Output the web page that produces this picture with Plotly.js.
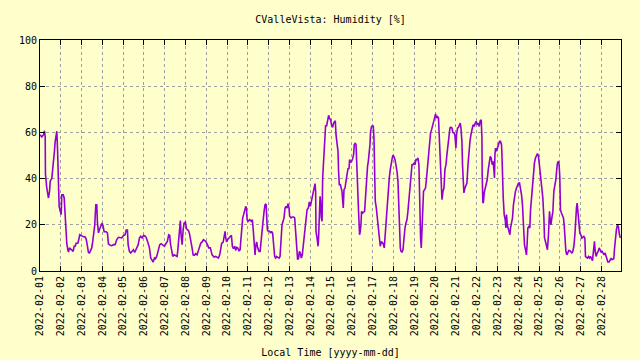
<!DOCTYPE html>
<html>
<head>
<meta charset="utf-8">
<script src="https://cdn.plot.ly/plotly-3.0.1.min.js"></script>
<style>html,body{margin:0;padding:0;background:#ffffcc;}#chart{width:640px;height:360px;}</style>
</head>
<body>
<div id="chart"></div>
<script>
// hours elapsed since 2022-02-01 00:00 local time
const hours = [
0,2.1,4.0,5.2,6.0,6.3,7.8,9.8,11.0,11.8,
13.6,14.8,15.9,16.7,17.5,18.7,19.4,20.2,21.0,22.1,
23.3,24.5,25.1,26.8,27.9,28.6,29.8,30.9,32.1,32.9,
34.0,35.5,36.7,38.3,39.4,40.6,41.7,43.6,44.7,45.9,
47.5,49.4,52.1,53.3,54.8,55.9,57.1,58.2,59.7,60.9,
62.0,63.2,64.4,65.5,66.3,67.5,68.6,70.1,71.7,72.9,
74.0,76.3,77.8,79.0,81.0,82.8,84.8,86.7,88.6,90.5,
92.5,94.3,96.3,98.3,99.4,100.9,
101.7,103.2,104.7,106.3,107.8,109.3,110.9,112.1,113.3,114.8,
116.3,117.9,119.7,121.7,122.8,124.8,126.3,127.8,129.4,130.6,
132.1,133.2,134.7,135.9,137.0,138.2,139.8,141.6,143.6,145.5,
147.0,148.5,149.7,150.5,151.7,153.2,154.8,156.3,158.2,158.9,
160.1,161.2,162.0,162.8,164.0,165.2,166.3,167.8,169.0,170.1,
171.3,172.4,173.6,174.7,175.5,176.7,178.2,179.7,181.3,182.5,
184.0,185.5,187.1,188.6,190.1,191.7,193.2,194.7,196.6,198.6,
200.9,202.7,204.7,205.9,207.4,208.5,209.7,211.3,212.4,213.6,
214.3,215.4,216.6,218.2,219.7,220.9,222.0,223.2,224.7,225.8,
227.0,228.1,229.7,230.9,232.0,232.7,233.9,235.0,236.2,237.4,
238.2,239.0,240.1,242.0,243.9,245.1,246.2,247.4,248.2,248.9,
250.0,251.2,252.8,254.0,255.1,256.3,257.4,258.6,259.7,260.9,
261.6,262.4,263.5,265.0,266.2,267.3,268.5,269.6,270.8,271.9,
273.1,274.2,275.9,277.0,277.7,278.5,279.3,280.5,281.6,282.8,
283.9,285.1,286.2,287.4,288.1,289.7,291.2,292.7,293.9,295.0,
296.2,297.3,298.5,
299.3,300.4,301.6,302.7,303.9,305.0,306.2,307.0,308.2,309.7,
310.8,312.0,313.1,314.3,315.4,316.6,317.4,318.1,318.5,319.7,
320.9,321.5,322.3,323.2,323.8,324.7,325.5,326.2,327.0,327.8,
328.9,329.6,330.8,331.9,333.1,334.2,335.4,336.5,337.7,338.8,
340.0,340.8,341.6,342.8,343.9,344.6,345.4,346.6,347.7,348.5,
349.2,350.0,350.8,352.0,353.1,354.3,355.4,356.6,357.3,358.4,
359.6,360.8,361.9,362.7,363.9,364.7,365.4,366.2,367.3,368.1,
368.8,369.6,370.4,371.1,372.3,374.6,375.7,376.9,378.0,378.9,
379.7,380.8,381.5,382.7,383.8,384.6,385.4,386.1,386.9,388.1,
389.2,390.4,391.5,392.7,393.9,395.0,396.2,397.3,398.1,399.3,
400.8,401.9,403.1,404.2,405.4,406.5,407.3,408.5,409.7,410.8,
412.0,413.1,413.8,414.6,415.8,416.6,417.7,418.9,420.0,421.2,
422.3,423.5,424.6,425.8,427.0,428.1,429.3,430.4,431.6,432.7,
433.9,435.0,436.2,437.3,438.0,438.5,439.2,440.0,440.8,441.5,
442.6,443.8,444.9,446.1,447.3,448.4,449.6,450.7,451.9,453.0,
454.2,455.3,456.5,457.6,458.8,459.9,460.7,461.6,462.3,463.1,
463.9,465.0,466.2,467.3,468.5,469.6,470.8,471.9,473.1,474.2,
475.4,476.5,477.7,478.8,480.0,480.7,481.9,483.0,484.2,485.0,
485.8,486.9,487.6,488.4,489.2,490.4,491.5,492.7,493.9,495.0,
496.2,497.3,498.5,499.6,
500.0,501.1,502.3,503.4,504.6,505.7,506.9,508.0,509.2,510.0,
510.3,511.1,511.8,512.6,513.8,514.9,516.1,517.3,518.4,519.6,
520.7,521.9,523.0,523.8,524.5,525.0,525.7,526.8,528.0,529.1,
530.3,531.4,532.6,533.1,533.7,534.6,535.7,536.9,537.7,538.4,
539.2,540.0,541.1,542.3,543.0,544.1,545.3,546.4,547.6,548.7,
549.9,551.0,552.2,553.4,554.5,555.7,556.8,558.0,559.1,560.3,
561.4,562.2,563.0,564.2,565.3,566.0,567.2,568.3,569.5,570.6,
571.8,573.0,574.1,575.3,576.4,577.6,578.4,579.2,580.3,581.5,
582.2,583.3,584.5,585.6,586.8,588.0,588.8,589.6,590.7,591.9,
593.0,594.2,595.3,596.5,597.2,598.3,599.1,599.9,
600.6,601.8,602.9,604.1,604.9,605.7,606.9,608.0,609.2,610.3,
611.5,612.6,613.8,614.9,616.1,617.3,618.4,619.1,619.9,620.7,
621.4,622.2,623.0,624.2,625.3,626.5,627.6,628.8,629.5,630.6,
631.8,632.9,634.1,635.2,636.4,637.6,638.7,639.9,640.7,641.8,
643.0,644.1,645.3,646.4,647.6,648.7,649.9,651.0,652.2,653.3,
654.2,655.3,656.8,658.0,659.1,660.3,661.4,662.2,662.9,664.1,
665.2,666.4,667.5,668.7,669.8
];

// relative humidity [%]
const humidity = [
59,58,59,60.7,58,42,36,31.6,34.5,39,
40,44,47.5,52,56,60,60.5,53,39.5,28,
26,24.4,33,33,31.6,27,14.3,12,9.2,8.2,
10,9.5,9.2,8.5,10.7,10.7,12,12,13.5,15.7,
15.4,14.9,14.7,13.8,10.7,8,7.8,9.2,10,12.8,
15.7,20,28.7,28.7,20.8,16.5,18,19.3,20.8,19.3,
17,17,16.5,11.7,11.1,11,11.4,11.4,13.6,14.6,
14.3,14.3,15.3,15.7,17.7,17.7,
11.4,8.5,7.8,8.5,9.2,8,9.2,10.7,11.4,14.3,
15,14.3,15.4,15,14.3,12,10,5.6,4.9,3.9,
5.6,5.3,6.3,8.5,9.2,11.4,11.8,11.4,10.7,12,
12.8,15.7,15.4,12,8.5,6.3,7,6.8,6.3,8.5,
14.3,20,21.8,15.7,11.4,17.9,20.8,21.2,18.3,17.9,
17.5,16.4,14.3,12.8,10,7,6.8,7.5,7,8.5,
10.7,12,12.6,13.6,13.2,12.6,11.4,10,10,7,
6,6.3,5.9,5.6,7,9.2,12,12.4,14.3,17.2,
14.3,12.6,13.6,14.6,15,15.4,10.7,9.7,10.7,8.9,
10.2,10,8.8,9.2,14.3,18.6,23,24.4,27,28,
27.3,22.2,21.5,22.2,21.5,22.2,17.2,10,7,10.7,
12.6,10,8.5,8.5,13.6,17.2,21.5,25.8,28.7,29,
23,17.9,17.2,17.2,16.4,17.2,16.4,10,6.3,5.6,
6.3,6,5.6,6.3,11.4,15.7,20,21.5,23,27.3,
28,27.2,29.1,27.3,23.7,23,23.4,23.4,23,17.2,
8.5,4.9,5.6,
8.5,7.8,5.6,7,11.4,15,20,23,26.5,27.3,
29.9,28,30.2,32.3,34.5,35.9,37.8,34.5,17.2,14.3,
10.7,14.3,20.8,32.3,30.2,23,21.5,40.3,46,56,
59,62.9,62.9,66.2,67.4,66,65.5,63,62.2,64,
65,65,59,54.7,51.8,43.1,37.4,37.4,35.9,34.5,
30.9,27.3,35.2,35.9,38.8,41.7,44.2,44.4,48.2,47.2,
47.5,48.6,50.4,54.7,55.4,54.7,50.4,40.3,28.7,17.9,
15.7,17.2,20,25.8,25.1,25.8,33,41.7,45.3,47.5,
50.4,54.7,60.5,62.6,62.6,63,57.6,40.3,30.2,27.3,
23,18.6,12,10.7,12.8,12.4,11.7,10,14.3,23,
28.7,35.2,40.3,43.9,47.5,48.9,50.1,49.5,48.2,46,
43.1,38.8,30.9,14.3,10,8.5,8.2,9.2,14.3,18.6,
20.8,22.2,25.8,31.6,37.4,43.1,46,46,46.8,46,
48.2,48.2,48.9,46,34.5,18.6,14.3,10,18.6,25.8,
34.5,35.2,35.9,40.3,46,51.8,57.6,59.7,61.2,63.3,
64.8,66.2,68,66.2,66.8,66.2,59,50.4,38.8,32.3,
30.9,34.5,35.9,43.9,46,50.4,54.7,59,61.9,62.2,
61.9,60,59.7,59,53.2,59,61.9,62.2,63.3,64,
61.9,56.1,46,37.4,33.8,35.9,37.4,38.1,46,53.2,
56.1,59,61.9,63,
63.3,62.6,64,64.8,63.3,64,62.6,65,65.5,57.6,
41.7,29.4,30,33.8,35.9,38.8,39.5,43.9,46,49.6,
48.9,46,47.5,44.6,40.3,50.4,53.2,51.8,53.2,55.4,
56.1,56.1,54.7,50.4,40.3,31.6,24.4,22.2,18.6,24.4,
20,18.6,16.4,15.7,18.6,20.8,23,28.7,33,34.5,
35.9,37.4,38,38.1,35.9,33,28.7,14.3,11.4,9.2,
7,12,18.6,19.3,18.6,25.8,31.6,35.2,41.7,46.8,
48.9,50.4,50.8,49.6,45.3,40.3,37.4,34.5,31.6,23,
14.3,12.8,10.7,9.2,15.7,25.8,22.2,20,23,25.8,
34.5,37.4,39.5,44.6,46.8,47.5,46,40.3,
26.5,25.1,23.7,23,20,14.3,8.5,7,8.5,8.9,
8.8,8.5,7.8,8.5,10.7,15.7,24.4,27.3,29.4,25.8,
20,17.9,16.4,15.7,14.3,14.7,15,14.3,6.3,5.9,
5.6,6.3,5.6,6.3,5.6,4.5,8.5,12.8,8.5,6.3,
7.8,8.5,10,9.2,8.2,8.5,7.8,7,7.8,6.3,
4.9,3.9,3.9,4.9,5.6,4.9,5.3,5.3,9.2,14.3,
17.9,20,19.3,15.7,14.3
];

const dayLabels = [
"2022-02-01","2022-02-02","2022-02-03","2022-02-04","2022-02-05","2022-02-06","2022-02-07",
"2022-02-08","2022-02-09","2022-02-10","2022-02-11","2022-02-12","2022-02-13","2022-02-14",
"2022-02-15","2022-02-16","2022-02-17","2022-02-18","2022-02-19","2022-02-20","2022-02-21",
"2022-02-22","2022-02-23","2022-02-24","2022-02-25","2022-02-26","2022-02-27","2022-02-28"
];
const yTicks = [0, 20, 40, 60, 80, 100];

const base = Date.UTC(2022, 1, 1);
function stamp(h) {
  return new Date(base + h * 3600000).toISOString().slice(0, 19).replace('T', ' ');
}
const times = hours.map(stamp);

const font = 'DejaVu Sans Mono, monospace';
const trace = {
  type: 'scatter', mode: 'lines',
  x: times, y: humidity,
  line: {color: '#9400d3', width: 1.6},
  hoverinfo: 'skip'
};

const layout = {
  width: 640, height: 360,
  paper_bgcolor: '#ffffcc', plot_bgcolor: '#ffffcc',
  margin: {l: 40, r: 19, t: 40, b: 89},
  font: {family: font, size: 10, color: '#000'},
  showlegend: false,
  title: {text: 'CValleVista: Humidity [%]', font: {family: font, size: 10, color: '#000'},
          x: 0.5165, xanchor: 'center', y: 0.947, yanchor: 'middle'},
  xaxis: {
    type: 'date',
    range: ['2022-02-01 00:00:00', stamp(670.5)],
    tickvals: dayLabels, ticktext: dayLabels,
    tickangle: -90,
    ticks: 'inside', ticklen: 5, tickcolor: '#000', tickwidth: 1,
    showline: true, linecolor: '#000', linewidth: 1, mirror: 'ticks',
    showgrid: true, gridcolor: '#a0a0a0', gridwidth: 1, griddash: '3px,3px',
    zeroline: false,
    tickfont: {family: font, size: 10, color: '#000'},
    title: {text: 'Local Time [yyyy-mm-dd]', font: {family: font, size: 10, color: '#000'}, standoff: 13}
  },
  yaxis: {
    range: [0, 100],
    tickvals: yTicks,
    ticks: 'inside', ticklen: 5, tickcolor: '#000', tickwidth: 1,
    showline: true, linecolor: '#000', linewidth: 1, mirror: 'ticks',
    showgrid: true, gridcolor: '#a0a0a0', gridwidth: 1, griddash: '3px,3px',
    zeroline: false,
    tickfont: {family: font, size: 10, color: '#000'}
  }
};

Plotly.newPlot('chart', [trace], layout, {staticPlot: true, displayModeBar: false});
</script>
</body>
</html>
